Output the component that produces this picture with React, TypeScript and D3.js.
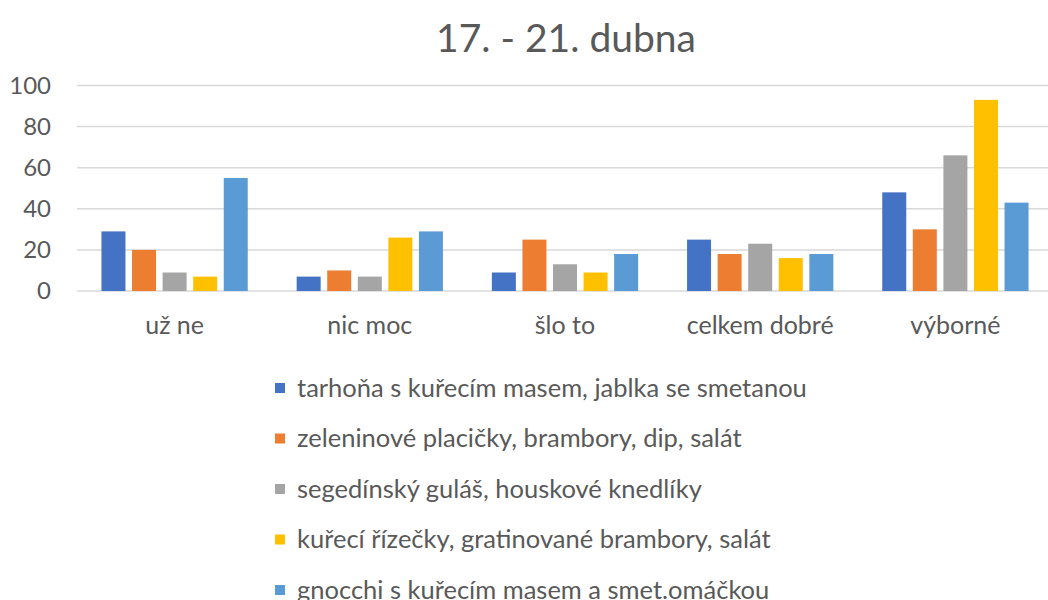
import React from "react";
import * as d3 from "d3";

const categories = ["už ne", "nic moc", "šlo to", "celkem dobré", "výborné"];
const seriesNames = [
  "tarhoňa s kuřecím masem, jablka se smetanou",
  "zeleninové placičky, brambory, dip, salát",
  "segedínský guláš, houskové knedlíky",
  "kuřecí řízečky, gratinované brambory, salát",
  "gnocchi s kuřecím masem a smet.omáčkou",
];
const tarhona = [29, 7, 9, 25, 48];
const zeleninove = [20, 10, 25, 18, 30];
const segedinsky = [9, 7, 13, 23, 66];
const kureci = [7, 26, 9, 16, 93];
const gnocchi = [55, 29, 18, 18, 43];
const yTicks = [0, 20, 40, 60, 80, 100];
const title = "17. - 21. dubna";

const seriesValues = [tarhona, zeleninove, segedinsky, kureci, gnocchi];
const colors = ["#4472C4", "#ED7D31", "#A5A5A5", "#FFC000", "#5B9BD5"];

const W = 1048;
const H = 600;
const FONT = "Lato, 'Open Sans', sans-serif";
const TEXT = "#595959";

export default function App() {
  const x0 = d3.scaleBand<string>().domain(categories).range([77, 1053]).padding(0);
  const x1 = d3
    .scaleBand<number>()
    .domain(d3.range(seriesNames.length))
    .range([0, x0.bandwidth()])
    .paddingInner(0.215)
    .paddingOuter(0.8);
  const y = d3.scaleLinear().domain([0, 100]).range([291, 85.5]);

  return (
    <svg
      width={W}
      height={H}
      style={{ position: "absolute", left: 0, top: 0, background: "#fff" }}
      fontFamily={FONT}
    >
      <rect width={W} height={H} fill="#fff" />
      <text x={566} y={52} textAnchor="middle" fontSize={39} fill={TEXT}>
        {title}
      </text>
      {yTicks.map((t) => (
        <g key={t}>
          <line x1={77} x2={1053} y1={y(t)} y2={y(t)} stroke="#d9d9d9" strokeWidth={1.5} />
          <text x={51} y={y(t)} dy="0.35em" textAnchor="end" fontSize={24} fill={TEXT}>
            {t}
          </text>
        </g>
      ))}
      {categories.map((c, ci) => (
        <g key={c} transform={`translate(${x0(c)},0)`}>
          {seriesValues.map((vals, si) => (
            <rect
              key={si}
              x={x1(si)}
              y={y(vals[ci])}
              width={x1.bandwidth()}
              height={y(0) - y(vals[ci])}
              fill={colors[si]}
            />
          ))}
          <text
            x={x0.bandwidth() / 2}
            y={325}
            dy="0.35em"
            textAnchor="middle"
            fontSize={25}
            fill={TEXT}
          >
            {c}
          </text>
        </g>
      ))}
      {seriesNames.map((s, i) => {
        const cy = 388 + i * 50.5;
        return (
          <g key={s}>
            <rect x={275} y={cy - 5} width={10} height={10} fill={colors[i]} />
            <text x={297} y={cy} dy="0.35em" fontSize={25.5} fill={TEXT}>
              {s}
            </text>
          </g>
        );
      })}
    </svg>
  );
}
